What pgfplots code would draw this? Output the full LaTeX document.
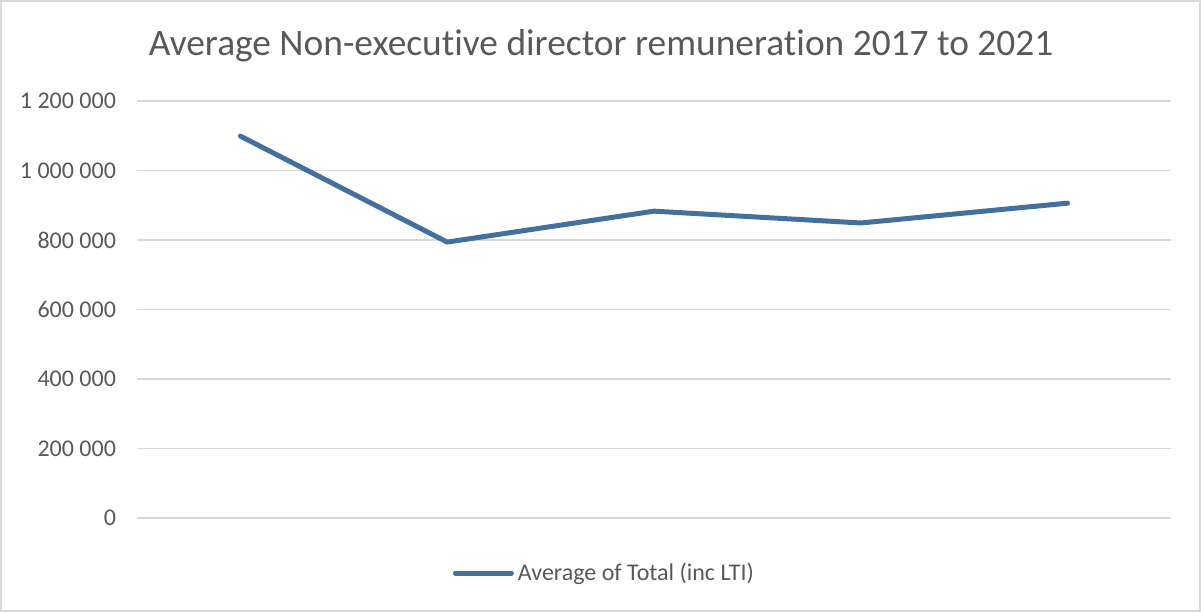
\documentclass[border=0pt]{standalone}
\usepackage{fontspec}
\setmainfont[RawFeature={-liga;-clig;-calt;-dlig}]{Carlito}
\usepackage{pgfplots}
\pgfplotsset{compat=1.18}
\definecolor{txt}{HTML}{595959}
\definecolor{grd}{HTML}{D9D9D9}
\definecolor{ser}{HTML}{44709E}
\begin{document}
\begin{tikzpicture}
% frame: 1 px = 0.5 pt
\useasboundingbox (0pt,0pt) rectangle (600.5pt,306pt);
\draw[grd, line width=0.75pt] (0.5pt,0.5pt) rectangle (600pt,305.5pt);
\node[text=txt, font=\fontsize{18.7}{21}\selectfont] at (300.5pt,283pt) {Average Non-executive director remuneration 2017 to 2021};
\begin{axis}[
    at={(68.5pt,47pt)}, anchor=south west,
    scale only axis,
    width=517pt, height=208.5pt,
    xmin=0.5, xmax=5.5,
    ymin=0, ymax=1200000,
    scaled y ticks=false,
    xtick=\empty,
    ytick={0,200000,400000,600000,800000,1000000,1200000},
    yticklabels={0,200 000,400 000,600 000,800 000,1 000 000,1 200 000},
    ymajorgrids,
    major grid style={grd, line width=0.75pt},
    axis line style={draw=none},
    major tick style={draw=none},
    yticklabel style={text=txt, font=\fontsize{12}{14}\selectfont, xshift=-7pt},
    legend style={at={(0.453,-0.132)}, anchor=center, draw=none, fill=none,
        font=\fontsize{12}{14}\selectfont, text=txt},
    legend cell align=left,
    legend image code/.code={\draw[#1, line cap=round] (0,0) -- (28pt,0);},
]
\addplot[ser, line width=2.5pt, line cap=round, line join=round] coordinates {
    (1, 1099000) (2, 794000) (3, 883000) (4, 849000) (5, 906000)
};
\addlegendentry{Average of Total (inc LTI)}
\end{axis}
\end{tikzpicture}
\end{document}
